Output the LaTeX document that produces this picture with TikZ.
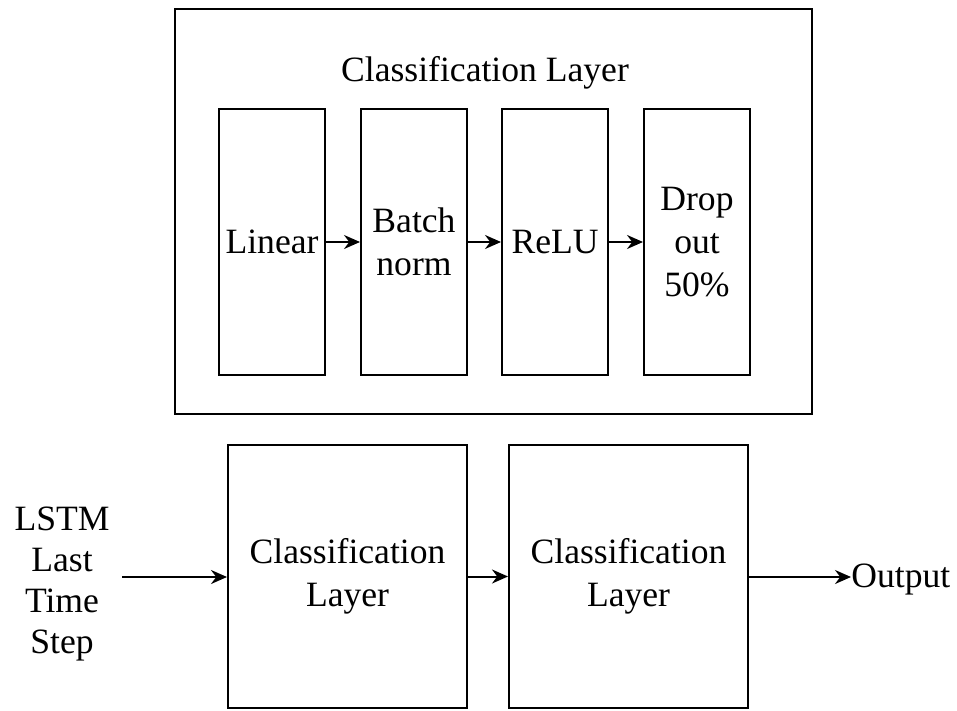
\documentclass[tikz,border=0pt]{standalone}
\usepackage{fontspec}
\setmainfont{Liberation Serif}
\usetikzlibrary{arrows.meta,positioning}

\tikzset{
  txt/.style={font=\fontsize{17.8}{21.5}\selectfont, align=center, inner sep=0pt},
  unit/.style={txt, draw, line width=1pt, minimum width=53pt, minimum height=133pt},
  clsbox/.style={txt, draw, line width=1pt, minimum width=119.5pt, minimum height=131.5pt},
  flow/.style={line width=1pt, -{Stealth[length=8pt,width=7pt]}}
}

\begin{document}
\begin{tikzpicture}[x=0.5pt, y=-0.5pt]
    \useasboundingbox (0,0) rectangle (957,711);

    % Inside one classification layer
    \draw[line width=1pt] (175,9) rectangle (812,414);
    \node[txt] (title) at (485,73) {Classification Layer};

    \node[unit] (linear) at (272,242) {Linear};
    \node[unit] (bnorm) at (414,242) {Batch\\norm};
    \node[unit] (relu) at (555,242) {ReLU};
    \node[unit] (drop) at (697,242) {Drop\\out\\50\%};

    \draw[flow] (linear) -- (bnorm);
    \draw[flow] (bnorm) -- (relu);
    \draw[flow] (relu) -- (drop);

    % Stacked layers
    \node[txt, font=\fontsize{17.8}{20.4}\selectfont] (lstm) at (62,584) {LSTM\\Last\\Time\\Step};
    \node[clsbox] (cls1) at (347.5,576.5) {Classification\\Layer};
    \node[clsbox] (cls2) at (628.5,576.5) {Classification\\Layer};
    \node[txt, anchor=west] (out) at (851,579) {Output};

    \coordinate (in) at (122,577);
    \draw[flow] (in) -- (cls1.west |- in);
    \draw[flow] (cls1) -- (cls2);
    \draw[flow] (cls2.east |- in) -- (out.west |- in);
\end{tikzpicture}
\end{document}
